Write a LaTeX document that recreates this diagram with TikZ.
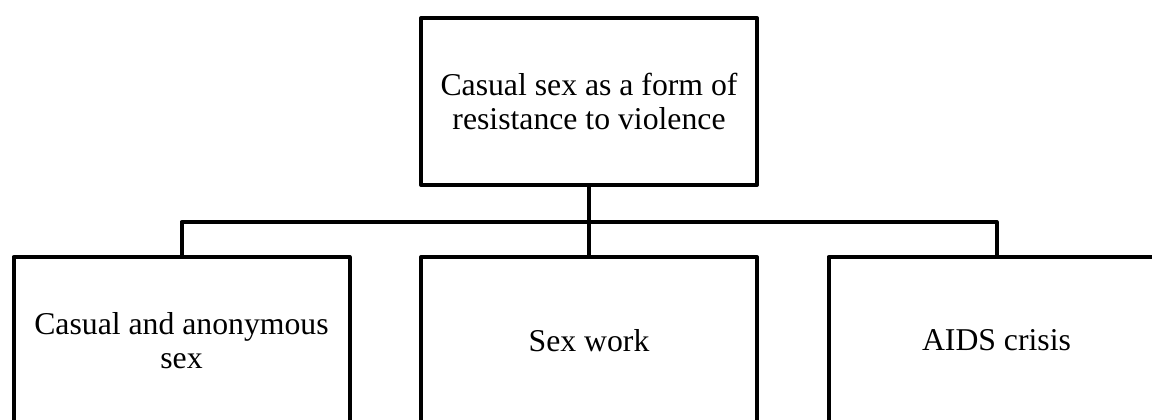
\documentclass[tikz,border=0pt]{standalone}
\usepackage{fontspec}
\setmainfont{Liberation Serif}
\begin{document}
\begin{tikzpicture}[x=0.75pt,y=-0.75pt,
  box/.style={draw=black,line width=3pt,line join=round,minimum width=336*0.75pt,minimum height=167*0.75pt,inner sep=0pt,align=center,font=\fontsize{23.8}{25.5}\selectfont},
  conn/.style={draw=black,line width=3pt,line join=round}]
\useasboundingbox (0,0) rectangle (1152,419);
\clip (0,0) rectangle (1152,419);
\node[box] (top) at (589,101.5) {Casual sex as a form of\\resistance to violence};
\node[box] (l) at (181.5,340.5) {Casual and anonymous\\sex};
\node[box] (m) at (589,340.5) {Sex work};
\node[box] (r) at (996.5,340.5) {AIDS crisis};
\coordinate (busy) at (0,222);
\draw[conn] (top.south) -- (m.north);
\draw[conn] (l.north) -- (l.north |- busy) -- (r.north |- busy) -- (r.north);
\end{tikzpicture}
\end{document}
